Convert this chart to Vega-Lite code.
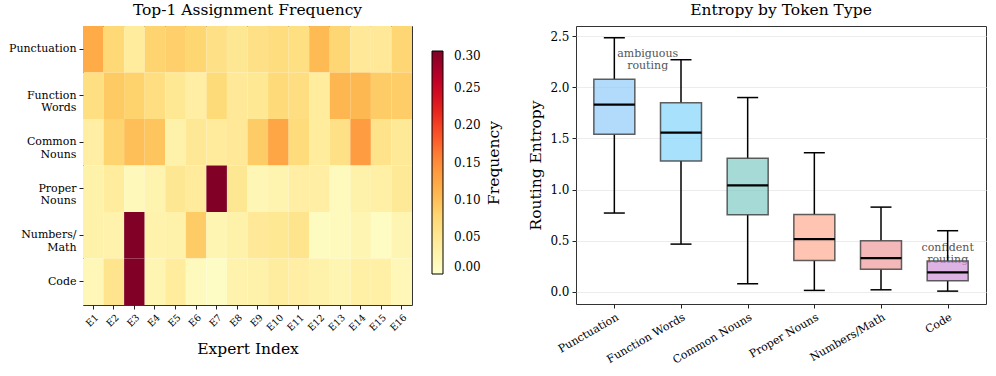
{
  "$schema": "https://vega.github.io/schema/vega-lite/v6.json",
  "background": "white",
  "padding": {"left": 8, "top": 2, "right": 5, "bottom": 5},
  "spacing": 24,
  "config": {
    "font": "DejaVu Serif",
    "view": {"stroke": "#333333", "strokeWidth": 1},
    "axis": {"labelFont": "DejaVu Serif", "titleFont": "DejaVu Serif", "labelColor": "#000000", "titleColor": "#000000", "tickColor": "#222222", "domain": false, "titleFontWeight": "normal", "tickSize": 4, "labelPadding": 3},
    "legend": {"labelFont": "DejaVu Serif", "titleFont": "DejaVu Serif"},
    "title": {"font": "DejaVu Serif", "fontWeight": "normal", "fontSize": 15.5, "color": "#000000", "offset": 8}
  },
  "hconcat": [
    {
      "title": {"text": "Top-1 Assignment Frequency"},
      "width": 329,
      "height": 279,
      "data": {"values": [
        {"tok":"Punctuation","exp":"E1","freq":0.12},{"tok":"Punctuation","exp":"E2","freq":0.075},{"tok":"Punctuation","exp":"E3","freq":0.04},{"tok":"Punctuation","exp":"E4","freq":0.08},{"tok":"Punctuation","exp":"E5","freq":0.085},{"tok":"Punctuation","exp":"E6","freq":0.078},{"tok":"Punctuation","exp":"E7","freq":0.06},{"tok":"Punctuation","exp":"E8","freq":0.05},{"tok":"Punctuation","exp":"E9","freq":0.06},{"tok":"Punctuation","exp":"E10","freq":0.068},{"tok":"Punctuation","exp":"E11","freq":0.065},{"tok":"Punctuation","exp":"E12","freq":0.105},{"tok":"Punctuation","exp":"E13","freq":0.077},{"tok":"Punctuation","exp":"E14","freq":0.045},{"tok":"Punctuation","exp":"E15","freq":0.045},{"tok":"Punctuation","exp":"E16","freq":0.077},
        {"tok":"Function Words","exp":"E1","freq":0.065},{"tok":"Function Words","exp":"E2","freq":0.09},{"tok":"Function Words","exp":"E3","freq":0.082},{"tok":"Function Words","exp":"E4","freq":0.066},{"tok":"Function Words","exp":"E5","freq":0.048},{"tok":"Function Words","exp":"E6","freq":0.035},{"tok":"Function Words","exp":"E7","freq":0.072},{"tok":"Function Words","exp":"E8","freq":0.045},{"tok":"Function Words","exp":"E9","freq":0.048},{"tok":"Function Words","exp":"E10","freq":0.073},{"tok":"Function Words","exp":"E11","freq":0.066},{"tok":"Function Words","exp":"E12","freq":0.04},{"tok":"Function Words","exp":"E13","freq":0.108},{"tok":"Function Words","exp":"E14","freq":0.107},{"tok":"Function Words","exp":"E15","freq":0.088},{"tok":"Function Words","exp":"E16","freq":0.087},
        {"tok":"Common Nouns","exp":"E1","freq":0.035},{"tok":"Common Nouns","exp":"E2","freq":0.08},{"tok":"Common Nouns","exp":"E3","freq":0.1},{"tok":"Common Nouns","exp":"E4","freq":0.095},{"tok":"Common Nouns","exp":"E5","freq":0.03},{"tok":"Common Nouns","exp":"E6","freq":0.047},{"tok":"Common Nouns","exp":"E7","freq":0.042},{"tok":"Common Nouns","exp":"E8","freq":0.045},{"tok":"Common Nouns","exp":"E9","freq":0.088},{"tok":"Common Nouns","exp":"E10","freq":0.125},{"tok":"Common Nouns","exp":"E11","freq":0.07},{"tok":"Common Nouns","exp":"E12","freq":0.04},{"tok":"Common Nouns","exp":"E13","freq":0.06},{"tok":"Common Nouns","exp":"E14","freq":0.135},{"tok":"Common Nouns","exp":"E15","freq":0.057},{"tok":"Common Nouns","exp":"E16","freq":0.046},
        {"tok":"Proper Nouns","exp":"E1","freq":0.028},{"tok":"Proper Nouns","exp":"E2","freq":0.04},{"tok":"Proper Nouns","exp":"E3","freq":0.015},{"tok":"Proper Nouns","exp":"E4","freq":0.025},{"tok":"Proper Nouns","exp":"E5","freq":0.05},{"tok":"Proper Nouns","exp":"E6","freq":0.042},{"tok":"Proper Nouns","exp":"E7","freq":0.38},{"tok":"Proper Nouns","exp":"E8","freq":0.05},{"tok":"Proper Nouns","exp":"E9","freq":0.02},{"tok":"Proper Nouns","exp":"E10","freq":0.025},{"tok":"Proper Nouns","exp":"E11","freq":0.035},{"tok":"Proper Nouns","exp":"E12","freq":0.035},{"tok":"Proper Nouns","exp":"E13","freq":0.012},{"tok":"Proper Nouns","exp":"E14","freq":0.028},{"tok":"Proper Nouns","exp":"E15","freq":0.032},{"tok":"Proper Nouns","exp":"E16","freq":0.046},
        {"tok":"Numbers/Math","exp":"E1","freq":0.03},{"tok":"Numbers/Math","exp":"E2","freq":0.027},{"tok":"Numbers/Math","exp":"E3","freq":0.38},{"tok":"Numbers/Math","exp":"E4","freq":0.027},{"tok":"Numbers/Math","exp":"E5","freq":0.03},{"tok":"Numbers/Math","exp":"E6","freq":0.088},{"tok":"Numbers/Math","exp":"E7","freq":0.022},{"tok":"Numbers/Math","exp":"E8","freq":0.03},{"tok":"Numbers/Math","exp":"E9","freq":0.045},{"tok":"Numbers/Math","exp":"E10","freq":0.048},{"tok":"Numbers/Math","exp":"E11","freq":0.055},{"tok":"Numbers/Math","exp":"E12","freq":0.01},{"tok":"Numbers/Math","exp":"E13","freq":0.012},{"tok":"Numbers/Math","exp":"E14","freq":0.022},{"tok":"Numbers/Math","exp":"E15","freq":0.008},{"tok":"Numbers/Math","exp":"E16","freq":0.022},
        {"tok":"Code","exp":"E1","freq":0.017},{"tok":"Code","exp":"E2","freq":0.055},{"tok":"Code","exp":"E3","freq":0.38},{"tok":"Code","exp":"E4","freq":0.022},{"tok":"Code","exp":"E5","freq":0.04},{"tok":"Code","exp":"E6","freq":0.012},{"tok":"Code","exp":"E7","freq":0.006},{"tok":"Code","exp":"E8","freq":0.027},{"tok":"Code","exp":"E9","freq":0.03},{"tok":"Code","exp":"E10","freq":0.038},{"tok":"Code","exp":"E11","freq":0.035},{"tok":"Code","exp":"E12","freq":0.03},{"tok":"Code","exp":"E13","freq":0.022},{"tok":"Code","exp":"E14","freq":0.032},{"tok":"Code","exp":"E15","freq":0.032},{"tok":"Code","exp":"E16","freq":0.017}
      ]},
      "mark": {"type": "rect"},
      "encoding": {
        "x": {"field": "exp", "type": "ordinal", "sort": ["E1","E2","E3","E4","E5","E6","E7","E8","E9","E10","E11","E12","E13","E14","E15","E16"],
          "scale": {"paddingInner": 0, "paddingOuter": 0},
          "axis": {"title": "Expert Index", "titleFontSize": 15.5, "titlePadding": 9, "labelAngle": 315, "labelAlign": "right", "labelBaseline": "top", "labelFontSize": 9.5, "labelPadding": 3, "labelOverlap": false}},
        "y": {"field": "tok", "type": "ordinal", "sort": ["Punctuation","Function Words","Common Nouns","Proper Nouns","Numbers/Math","Code"],
          "scale": {"paddingInner": 0, "paddingOuter": 0},
          "axis": {"title": null, "labelFontSize": 11, "labelLineHeight": 12.5, "labelExpr": "datum.value == 'Numbers/Math' ? ['Numbers/', 'Math'] : split(datum.value, ' ')"}},
        "color": {"field": "freq", "type": "quantitative",
          "scale": {"type": "linear", "domain": [0, 0.0375, 0.075, 0.1125, 0.15, 0.1875, 0.225, 0.2625, 0.3], "range": ["#ffffcc","#ffeda0","#fed976","#feb24c","#fd8d3c","#fc4e2a","#e31a1c","#bd0026","#800026"], "clamp": true},
          "legend": {"title": "Frequency", "orient": "none", "legendX": 349, "legendY": 25, "direction": "vertical", "gradientLength": 223, "gradientThickness": 11, "gradientStrokeColor": "#000000", "gradientStrokeWidth": 1, "values": [0, 0.05, 0.1, 0.15, 0.2, 0.25, 0.3], "format": ".2f", "labelFontSize": 12, "labelOffset": 11, "labelColor": "#000000", "titleOrient": "right", "titleFontSize": 15.5, "titleFontWeight": "normal", "titleColor": "#000000", "titleAnchor": "middle", "titlePadding": 6,
            "encode": {"title": {"update": {"angle": {"value": 270}, "baseline": {"value": "top"}}}}}}
      }
    },
    {
      "title": {"text": "Entropy by Token Type"},
      "width": 410,
      "height": 278,
      "data": {"values": [
        {"type":"Punctuation","idx":0,"lo":0.77,"q1":1.54,"med":1.83,"q3":2.08,"hi":2.485},
        {"type":"Function Words","idx":1,"lo":0.466,"q1":1.28,"med":1.556,"q3":1.85,"hi":2.27},
        {"type":"Common Nouns","idx":2,"lo":0.078,"q1":0.753,"med":1.04,"q3":1.305,"hi":1.9},
        {"type":"Proper Nouns","idx":3,"lo":0.013,"q1":0.306,"med":0.515,"q3":0.756,"hi":1.36},
        {"type":"Numbers/Math","idx":4,"lo":0.019,"q1":0.221,"med":0.329,"q3":0.499,"hi":0.828},
        {"type":"Code","idx":5,"lo":0.006,"q1":0.107,"med":0.189,"q3":0.3,"hi":0.597}
      ]},
      "encoding": {
        "x": {"field": "idx", "type": "quantitative",
          "scale": {"domain": [-0.5, 5.5], "nice": false, "zero": false},
          "axis": {"title": null, "values": [0, 1, 2, 3, 4, 5], "grid": false, "labelAngle": -30, "labelAlign": "right", "labelBaseline": "top", "labelFontSize": 11, "labelOverlap": false, "labelExpr": "['Punctuation','Function Words','Common Nouns','Proper Nouns','Numbers/Math','Code'][datum.value]"}}
      },
      "layer": [
        {
          "data": {"values": [
            {"idx": 0.5, "lo": 2.33, "note": "ambiguous\nrouting"},
            {"idx": 5, "lo": 0.43, "note": "confident\nrouting"}
          ]},
          "mark": {"type": "text", "fontSize": 11, "color": "#555555", "lineBreak": "\n", "baseline": "middle", "align": "center", "lineHeight": 12.5},
          "encoding": {
            "y": {"field": "lo", "type": "quantitative", "title": "Routing Entropy",
              "scale": {"domain": [-0.12, 2.6], "nice": false, "zero": false},
              "axis": {"values": [0, 0.5, 1, 1.5, 2, 2.5], "format": ".1f", "labelFontSize": 12, "titleFontSize": 15.5, "titlePadding": 6, "grid": true, "gridColor": "#ececec", "gridWidth": 1}},
            "text": {"field": "note"}
          }
        },
        {
          "mark": {"type": "rule", "color": "#000000", "strokeWidth": 1.5},
          "encoding": {
            "y": {"field": "lo", "type": "quantitative", "title": "Routing Entropy", "scale": {"domain": [-0.12, 2.6], "nice": false, "zero": false}},
            "y2": {"field": "q1"}
          }
        },
        {
          "mark": {"type": "rule", "color": "#000000", "strokeWidth": 1.5},
          "encoding": {
            "y": {"field": "q3", "type": "quantitative", "title": "Routing Entropy", "scale": {"domain": [-0.12, 2.6], "nice": false, "zero": false}},
            "y2": {"field": "hi"}
          }
        },
        {
          "mark": {"type": "tick", "orient": "horizontal", "size": 21, "thickness": 1.5, "color": "#000000", "opacity": 1},
          "encoding": {
            "y": {"field": "lo", "type": "quantitative", "title": "Routing Entropy", "scale": {"domain": [-0.12, 2.6], "nice": false, "zero": false}}
          }
        },
        {
          "mark": {"type": "tick", "orient": "horizontal", "size": 21, "thickness": 1.5, "color": "#000000", "opacity": 1},
          "encoding": {
            "y": {"field": "hi", "type": "quantitative", "title": "Routing Entropy", "scale": {"domain": [-0.12, 2.6], "nice": false, "zero": false}}
          }
        },
        {
          "mark": {"type": "bar", "size": 41, "stroke": "#444444", "strokeOpacity": 0.85, "strokeWidth": 1.5, "fillOpacity": 0.7},
          "encoding": {
            "y": {"field": "q1", "type": "quantitative", "title": "Routing Entropy", "scale": {"domain": [-0.12, 2.6], "nice": false, "zero": false}},
            "y2": {"field": "q3"},
            "color": {"field": "type", "type": "nominal", "legend": null,
              "scale": {"domain": ["Punctuation","Function Words","Common Nouns","Proper Nouns","Numbers/Math","Code"], "range": ["#90CAF9","#81D4FA","#80CBC4","#FFAB91","#EF9A9A","#CE93D8"]}}
          }
        },
        {
          "mark": {"type": "tick", "orient": "horizontal", "size": 41, "thickness": 2.2, "color": "#000000", "opacity": 1},
          "encoding": {
            "y": {"field": "med", "type": "quantitative", "title": "Routing Entropy", "scale": {"domain": [-0.12, 2.6], "nice": false, "zero": false}}
          }
        }
      ]
    }
  ]
}
